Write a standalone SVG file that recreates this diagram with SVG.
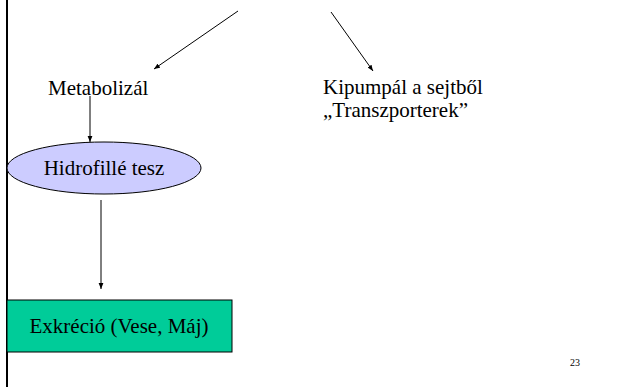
<svg xmlns="http://www.w3.org/2000/svg" width="629" height="387" viewBox="0 0 629 387">
  <style>
    .lbl { font-family: "Liberation Serif", "Times New Roman", serif; font-size: 21px; fill: #000; }
    .edge { stroke: #000; stroke-width: 1; fill: none; marker-end: url(#head); }
  </style>
  <defs>
    <marker id="head" viewBox="0 0 10 10" refX="10" refY="5" markerWidth="6" markerHeight="6" markerUnits="userSpaceOnUse" orient="auto">
      <path d="M0,1 L10,5 L0,9 Z" fill="#000"/>
    </marker>
  </defs>

  <rect width="629" height="387" fill="#fff"/>
  <!-- left slide border -->
  <rect x="6" y="0" width="2" height="387" fill="#000"/>

  <g id="connectors">
    <line class="edge" x1="238" y1="11" x2="154" y2="69"/>
    <line class="edge" x1="331" y1="12" x2="373" y2="71"/>
    <line class="edge" x1="90" y1="96" x2="90" y2="142"/>
    <line class="edge" x1="101" y1="200" x2="101" y2="289"/>
  </g>

  <g id="metabolizal">
    <text class="lbl" x="48" y="95">Metabolizál</text>
  </g>

  <g id="kipumpal">
    <text class="lbl" x="323" y="94">Kipumpál a sejtből</text>
    <text class="lbl" x="323" y="117">„Transzporterek”</text>
  </g>

  <g id="hidrofille">
    <ellipse cx="104" cy="168" rx="97" ry="26" fill="#CCCCFF" stroke="#000" stroke-width="1"/>
    <text class="lbl" x="104" y="175" text-anchor="middle">Hidrofillé tesz</text>
  </g>

  <g id="exkrecio">
    <rect x="7" y="300" width="225" height="52" fill="#00CC99" stroke="#000" stroke-width="1"/>
    <text class="lbl" x="119" y="333" text-anchor="middle">Exkréció (Vese, Máj)</text>
  </g>

  <g id="page-number">
    <text x="570" y="366" font-family="'Liberation Serif', serif" font-size="10" fill="#000">23</text>
  </g>
</svg>
